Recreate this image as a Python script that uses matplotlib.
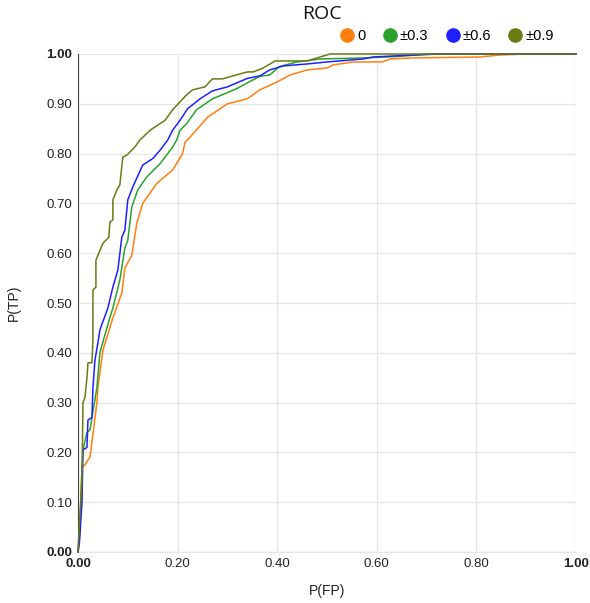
import matplotlib
matplotlib.use("Agg")
import matplotlib.pyplot as plt
from matplotlib.lines import Line2D

plt.rcParams['font.family'] = ['Liberation Sans', 'DejaVu Sans']

labels = ["0", "±0.3", "±0.6", "±0.9"]
colors = ["#ff7f0e", "#2ca02c", "#2020ff", "#6b7a12"]

fpr_0 = [0.0, 0.004, 0.008, 0.014, 0.02, 0.024, 0.038, 0.04, 0.05, 0.07, 0.088, 0.094, 0.108,
         0.118, 0.13, 0.158, 0.19, 0.21, 0.215, 0.225, 0.26, 0.30, 0.34, 0.365, 0.40, 0.426,
         0.46, 0.50, 0.512, 0.553, 0.61, 0.627, 0.67, 0.807, 0.847, 0.90, 1.0]
tpr_0 = [0.0, 0.05, 0.17, 0.175, 0.185, 0.19, 0.30, 0.33, 0.405, 0.47, 0.52, 0.57, 0.596,
         0.66, 0.70, 0.74, 0.767, 0.80, 0.823, 0.833, 0.873, 0.90, 0.91, 0.928, 0.944, 0.958,
         0.968, 0.972, 0.978, 0.984, 0.984, 0.99, 0.992, 0.994, 0.998, 1.0, 1.0]

fpr_3 = [0.0, 0.004, 0.008, 0.01, 0.018, 0.024, 0.038, 0.044, 0.058, 0.07, 0.084, 0.094, 0.10,
         0.108, 0.12, 0.138, 0.165, 0.19, 0.198, 0.205, 0.218, 0.238, 0.27, 0.318, 0.34,
         0.365, 0.385, 0.405, 0.44, 0.486, 0.572, 0.64, 0.707, 1.0]
tpr_3 = [0.0, 0.05, 0.17, 0.205, 0.24, 0.245, 0.33, 0.40, 0.45, 0.49, 0.546, 0.61, 0.626,
         0.693, 0.727, 0.753, 0.78, 0.813, 0.827, 0.847, 0.86, 0.888, 0.91, 0.93, 0.942,
         0.955, 0.958, 0.975, 0.984, 0.99, 0.992, 0.995, 1.0, 1.0]

fpr_6 = [0.0, 0.003, 0.008, 0.01, 0.018, 0.02, 0.028, 0.03, 0.034, 0.04, 0.044, 0.06, 0.07,
         0.08, 0.088, 0.094, 0.10, 0.11, 0.13, 0.15, 0.165, 0.18, 0.19, 0.205, 0.22, 0.245,
         0.27, 0.30, 0.34, 0.365, 0.385, 0.412, 0.46, 0.50, 0.572, 0.593, 0.673, 0.727, 1.0]
tpr_6 = [0.0, 0.02, 0.10, 0.205, 0.21, 0.265, 0.27, 0.33, 0.385, 0.42, 0.446, 0.49, 0.532,
         0.566, 0.632, 0.646, 0.707, 0.733, 0.777, 0.79, 0.807, 0.827, 0.847, 0.867, 0.89,
         0.91, 0.926, 0.934, 0.951, 0.956, 0.968, 0.976, 0.98, 0.984, 0.99, 0.994, 0.998, 1.0, 1.0]

fpr_9 = [0.0, 0.002, 0.008, 0.01, 0.014, 0.018, 0.02, 0.028, 0.03, 0.03, 0.036, 0.036, 0.05,
         0.058, 0.062, 0.064, 0.07, 0.07, 0.078, 0.084, 0.09, 0.098, 0.108, 0.114, 0.124,
         0.145, 0.175, 0.19, 0.205, 0.218, 0.23, 0.255, 0.27, 0.29, 0.318, 0.34, 0.352,
         0.372, 0.396, 0.46, 0.506, 1.0]
tpr_9 = [0.0, 0.044, 0.145, 0.30, 0.31, 0.35, 0.38, 0.38, 0.426, 0.526, 0.532, 0.586, 0.62,
         0.628, 0.632, 0.662, 0.667, 0.707, 0.727, 0.737, 0.793, 0.797, 0.807, 0.813, 0.827,
         0.847, 0.867, 0.888, 0.904, 0.918, 0.928, 0.934, 0.95, 0.95, 0.958, 0.964, 0.964,
         0.972, 0.986, 0.986, 1.0, 1.0]

series = [(fpr_0, tpr_0), (fpr_3, tpr_3), (fpr_6, tpr_6), (fpr_9, tpr_9)]

W, H = 590, 603
fig = plt.figure(figsize=(W / 100, H / 100), dpi=100)
ax = fig.add_axes([78 / W, (H - 552) / H, 498 / W, 498 / H])

for (fx, ty), c in zip(series, colors):
    ax.plot(fx, ty, color=c, lw=1.1, clip_on=False, zorder=3)

ax.set_xlim(0, 1)
ax.set_ylim(0, 1)
xt = [0, 0.2, 0.4, 0.6, 0.8, 1.0]
yt = [i / 10 for i in range(11)]
ax.set_xticks(xt)
ax.set_yticks(yt)
ax.set_xticklabels([f"{v:.2f}" for v in xt], fontsize=9.5)
ax.set_yticklabels([f"{v:.2f}" for v in yt], fontsize=9.5)
for lab in [ax.get_xticklabels()[0], ax.get_xticklabels()[-1],
            ax.get_yticklabels()[0], ax.get_yticklabels()[-1]]:
    lab.set_fontweight('bold')
ax.tick_params(length=0, pad=4, colors='#222222')
ax.grid(True, color='#e6e6e6', lw=1)
ax.set_axisbelow(True)
for s in ['top', 'right']:
    ax.spines[s].set_visible(False)
ax.spines['bottom'].set_color('#e6e6e6')
ax.spines['left'].set_color('#444444')

fig.text((78 + 576) / 2 / W, 1 - 591 / H, "P(FP)", ha='center', va='center', fontsize=10, color='#222222')
fig.text(14 / W, 1 - 303 / H, "P(TP)", ha='center', va='center', rotation=90, fontsize=10, color='#222222')
fig.text(322 / W, 1 - 14 / H, "ROC", ha='center', va='center', fontsize=14, color='#111111',
         family=['Open Sans', 'DejaVu Sans'])

handles = [Line2D([], [], marker='o', ls='', color=c, markersize=9.5) for c in colors]
fig.legend(handles, labels, loc='center right', bbox_to_anchor=(554 / W, 1 - 36 / H),
           ncol=4, frameon=False, fontsize=10.5, handletextpad=0.2, columnspacing=1.15,
           handlelength=1.0, borderaxespad=0, borderpad=0)

fig.savefig("out.png", dpi=100)
